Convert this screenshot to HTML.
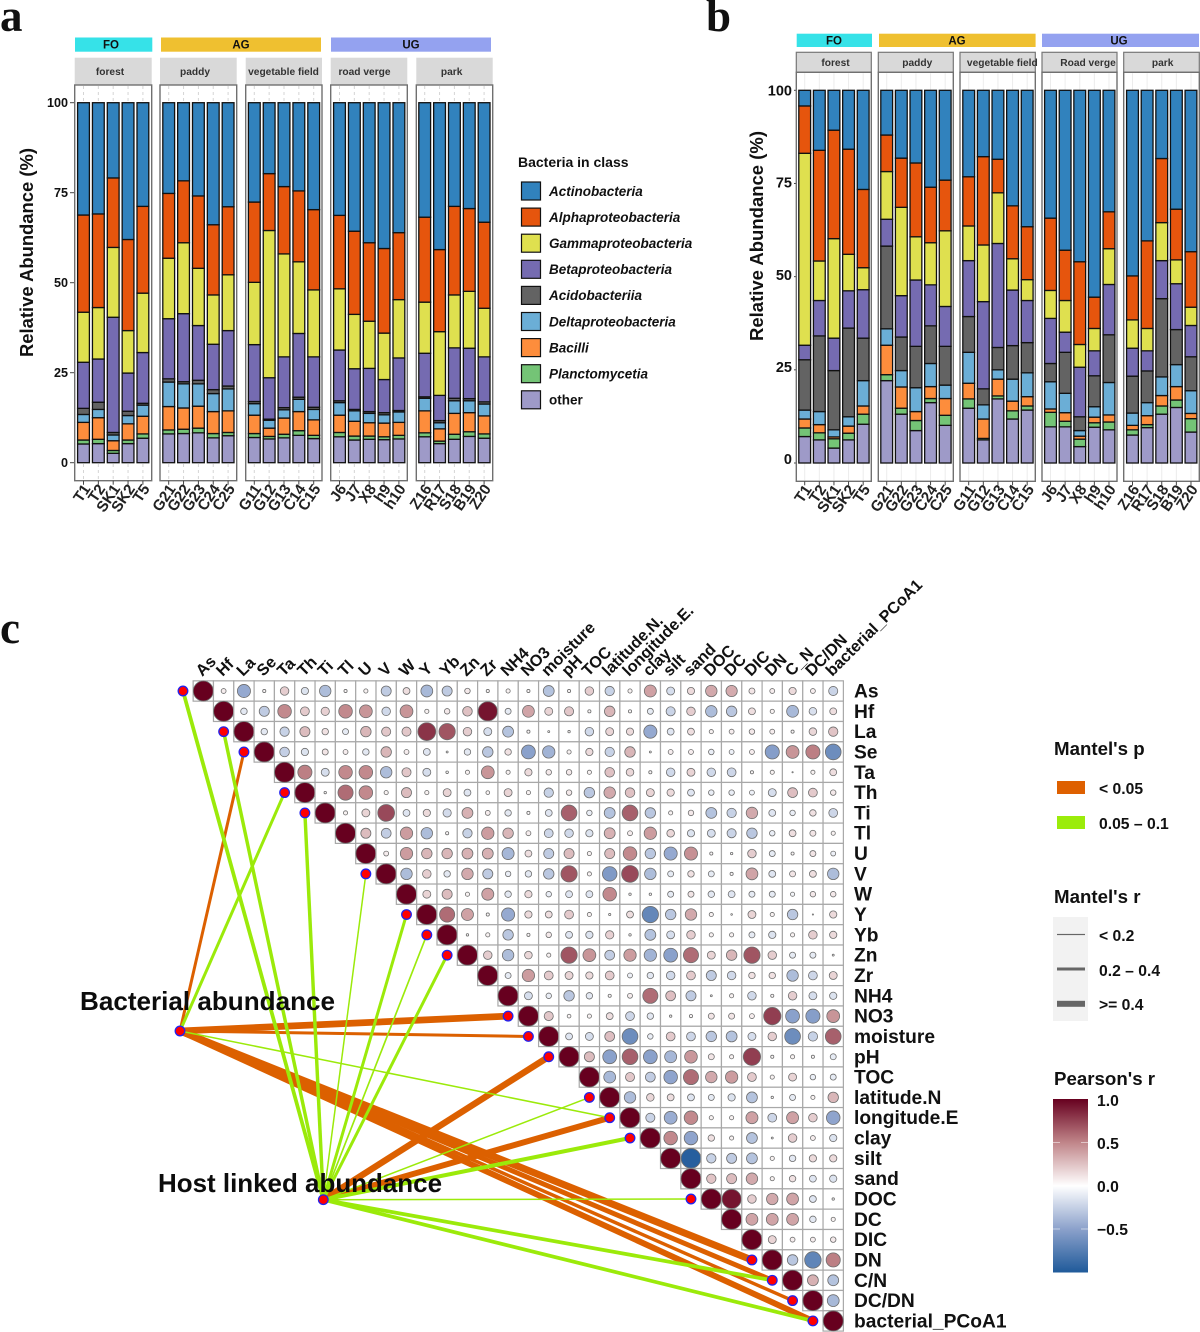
<!DOCTYPE html>
<html lang="en">
<head>
<meta charset="utf-8">
<title>Bacterial community composition and Mantel correlation network</title>
<style>
html,body{margin:0;padding:0;background:#fff}
svg{display:block}
text{font-family:"Liberation Sans",sans-serif}
.panel-letter{font-family:"Liberation Serif",serif;font-weight:700;font-size:45px;fill:#111}
.legend-title{font-weight:700;font-size:18.7px;fill:#111}
.legend-label{font-weight:700;font-size:15.7px;fill:#111}
.big-label{font-weight:700;font-size:26px;fill:#0c0c0c}
</style>
</head>
<body>
<svg id="figure" xmlns="http://www.w3.org/2000/svg" width="1200" height="1332" viewBox="0 0 1200 1332">
  <rect x="0" y="0" width="1200" height="1332" fill="#fff"/>
  <text class="panel-letter" x="0" y="31">a</text>
  <text class="panel-letter" x="706" y="31">b</text>
  <text class="panel-letter" x="0" y="643">c</text>

  <g id="chartA"></g>
  <g id="chartB"></g>

  <g>
    <text x="518" y="167" font-size="14" font-weight="700" fill="#111">Bacteria in class</text>
    <g id="classLegend"></g>
  </g>

  <g id="matrix"></g>
  <g id="links"></g>
  <g id="nodes"></g>

  <text class="big-label" x="80" y="1010" textLength="255" lengthAdjust="spacingAndGlyphs">Bacterial abundance</text>
  <text class="big-label" x="158" y="1192" textLength="284" lengthAdjust="spacingAndGlyphs">Host linked abundance</text>

  <g>
    <text class="legend-title" x="1054" y="755">Mantel's p</text>
    <rect x="1057" y="781" width="28" height="13" fill="#de6000"/>
    <text class="legend-label" x="1099" y="794">&lt; 0.05</text>
    <rect x="1057" y="816" width="28" height="13" fill="#9bec0a"/>
    <text class="legend-label" x="1099" y="829">0.05 – 0.1</text>
  </g>
  <g>
    <text class="legend-title" x="1054" y="903">Mantel's r</text>
    <rect x="1053" y="917" width="35" height="104" fill="#f2f2f2"/>
    <rect x="1057" y="933.9" width="28" height="1.2" fill="#666"/>
    <rect x="1057" y="967.5" width="28" height="3" fill="#666"/>
    <rect x="1057" y="1000.8" width="28" height="6" fill="#666"/>
    <text class="legend-label" x="1099" y="941">&lt; 0.2</text>
    <text class="legend-label" x="1099" y="976">0.2 – 0.4</text>
    <text class="legend-label" x="1099" y="1010">&gt;= 0.4</text>
  </g>
  <g>
    <text class="legend-title" x="1054" y="1085">Pearson's r</text>
    <defs>
      <linearGradient id="pearsonGradient" x1="0" y1="0" x2="0" y2="1">
        <stop offset="0" stop-color="#67001f"/>
        <stop offset="0.25" stop-color="#c08589"/>
        <stop offset="0.5" stop-color="#ffffff"/>
        <stop offset="0.75" stop-color="#8ba1cb"/>
        <stop offset="1" stop-color="#1f5a9a"/>
      </linearGradient>
    </defs>
    <rect x="1053" y="1099" width="35" height="173.5" fill="url(#pearsonGradient)"/>
    <g stroke="#fff" stroke-opacity="0.7" stroke-width="0.8">
      <path d="M1053 1142.5h7M1081 1142.5h7M1053 1186h7M1081 1186h7M1053 1229h7M1081 1229h7"/>
    </g>
    <text class="legend-label" x="1097" y="1106">1.0</text>
    <text class="legend-label" x="1097" y="1149">0.5</text>
    <text class="legend-label" x="1097" y="1192">0.0</text>
    <text class="legend-label" x="1097" y="1235">−0.5</text>
  </g>
</svg>

<script>
// ---------- stacked bar data: upper edge of each class for every sample ----------
// order in every array: other, Planctomycetia, Bacilli, Deltaproteobacteria, Acidobacteriia, Betaproteobacteria, Gammaproteobacteria, Alphaproteobacteria (Actinobacteria runs on to 100)
const classNames = ['other','Planctomycetia','Bacilli','Deltaproteobacteria','Acidobacteriia','Betaproteobacteria','Gammaproteobacteria','Alphaproteobacteria','Actinobacteria'];
const legendOrder = ['Actinobacteria','Alphaproteobacteria','Gammaproteobacteria','Betaproteobacteria','Acidobacteriia','Deltaproteobacteria','Bacilli','Planctomycetia','other'];
const yTicks = [0,25,50,75,100];

const sampleNames = ['T1','T2','SK1','SK2','T5','G21','G22','G23','C24','C25','G11','G12','G13','C14','C15','J6','J7','X8','h9','h10','Z16','R17','S18','B19','Z20'];

const aT1=[5.2,6.3,11.2,13.4,15.1,27.9,41.8,68.8];
const aT2=[5.3,6.5,12.5,14.8,16.8,28.8,43.1,69.1];
const aSK1=[2.6,3.4,6.1,7.7,8.4,40.4,59.8,79.1];
const aSK2=[5.3,6.3,10.8,13.1,14.3,24.9,36.7,62];
const aT5=[6.8,8,12.9,16,16.5,30.6,47.1,71.2];
const aG21=[8,9.1,15.6,22.4,23.3,40,56.8,74.8];
const aG22=[8.1,9.3,15.2,21.9,22.5,41.4,61.1,78.3];
const aG23=[8.3,9.6,15.7,21.9,22.9,38.1,54,74.1];
const aC24=[6.9,8.1,14.2,19.2,20.3,32.9,46.6,66.1];
const aC25=[7.5,8.4,14.4,20.5,21.3,36.7,52.2,71.1];
const aG11=[7,8.1,13.2,16.4,17,32.8,50.1,72.4];
const aG12=[6.6,7.3,9.6,11.8,12.1,23.6,64.5,80.3];
const aG13=[6.9,7.9,12.4,14.7,15.3,29.4,58,76.7];
const aC14=[7.6,8.9,14.2,17.6,18.2,35.9,55.8,75.5];
const aC15=[6.7,7.6,11.9,14.8,15.4,29.4,48,70.3];
const aJ6=[7.2,8.4,13.2,16.7,17.2,31.3,48.3,68.7];
const aJ7=[6.3,7.4,11.5,14.4,14.8,26.1,41.2,64.3];
const aX8=[6.5,7.4,11.1,13.7,14.2,26.2,39.3,61.1];
const ah9=[6.4,7.2,11,13.3,13.9,23.1,36,59.5];
const ah10=[6.6,7.6,11.2,14.1,14.5,29.1,45.3,63.9];
const aZ16=[7.2,8.3,14.4,17.9,18.3,30.4,44.6,68.2];
const aR17=[5.3,6,9.4,11.1,11.7,18.7,36.4,59.2];
const aS18=[6.5,7.9,13.7,17.2,17.9,31.9,46.6,71.2];
const aB19=[7.3,8.6,13.9,17.2,17.8,31.8,47.6,70.6];
const aZ20=[6.8,8,13,16.3,16.9,29.4,42.9,66.8];

const bT1=[7.1,9.4,11.8,14.2,27.7,31.6,83.1,95.8];
const bT2=[6.2,8.1,10.3,13.8,34.1,43.6,54.2,83.9];
const bSK1=[4,6.5,7,8.9,24.8,33.5,60.2,89.3];
const bSK2=[6.2,8,9.9,12.4,36.2,46.2,56,84.2];
const bT5=[10.4,13.1,15.3,22.1,33.5,46.5,52.4,73.4];
const bG21=[22.1,23.7,31.6,36,58.2,65.4,78.2,88];
const bG22=[13.1,14.7,20.4,24.8,33.8,44.9,68.6,81.8];
const bG23=[8.7,11.4,13.8,20.2,31.3,49.1,60.7,80.5];
const bC24=[16.2,17.3,20.5,26.7,36.8,47.8,59.1,74];
const bC25=[10.1,12.8,17.3,20.9,31.3,42,62.3,75.9];
const bG11=[14.7,17.2,21.4,29.7,39.3,54.3,63.6,76.8];
const bG12=[6.2,6.6,11.8,15.6,19.9,43.3,58.5,82.2];
const bG13=[17.2,18,22.5,25,31,58.9,72.5,81.5];
const bC14=[11.8,14,16.6,22.5,31.5,46.4,54.8,69];
const bC15=[14.2,15.3,17.8,24.2,32.3,43.6,49.2,63.4];
const bJ6=[9.7,13.6,14.5,21.8,26.7,38.8,46.3,65.7];
const bJ7=[9.7,11.2,13.5,18.7,29.7,35.1,43.6,57.1];
const bX8=[4.4,6.4,7.2,8.7,12.4,25.7,31.8,54];
const bh9=[9.6,10.8,12.3,15.1,23.4,30.1,36.1,44.5];
const bh10=[8.9,11,12.9,21.6,34.4,47.9,57.5,67.4];
const bZ16=[7.5,8.9,10.1,13.4,23.3,30.8,38.4,50.2];
const bR17=[9.5,10.3,12.7,16.2,24.7,30.1,36.1,59.6];
const bS18=[13.1,15.3,18.1,23.1,44.1,54.3,64.5,81.7];
const bB19=[14.9,16.9,20.5,26.4,35.8,48.1,54.5,68.1];
const bZ20=[8.3,11.9,13.3,19.4,28.5,36.9,41.8,56.7];

const seriesA=[aT1,aT2,aSK1,aSK2,aT5,aG21,aG22,aG23,aC24,aC25,aG11,aG12,aG13,aC14,aC15,aJ6,aJ7,aX8,ah9,ah10,aZ16,aR17,aS18,aB19,aZ20];
const seriesB=[bT1,bT2,bSK1,bSK2,bT5,bG21,bG22,bG23,bC24,bC25,bG11,bG12,bG13,bC14,bC15,bJ6,bJ7,bX8,bh9,bh10,bZ16,bR17,bS18,bB19,bZ20];

// ---------- correlation data: each row holds r with every variable to its right ----------
const varNames=['As','Hf','La','Se','Ta','Th','Ti','Tl','U','V','W','Y','Yb','Zn','Zr','NH4','NO3','moisture','pH','TOC','latitude.N','longitude.E','clay','silt','sand','DOC','DC','DIC','DN','C/N','DC/DN','bacterial_PCoA1'];
const topLabels=['As','Hf','La','Se','Ta','Th','Ti','Tl','U','V','W','Y','Yb','Zn','Zr','NH4','NO3','moisture','pH','TOC','latitude.N.','longitude.E.','clay','silt','sand','DOC','DC','DIC','DN','C_N','DC/DN','bacterial_PCoA1'];

const rAs=[.03,-.35,.01,.12,-.08,-.25,.01,.02,-.18,.07,-.27,-.18,.04,.01,.02,.01,-.22,.01,.12,-.15,.02,.28,-.1,.08,.25,.24,.05,.03,.08,.03,-.14];
const rHf=[-.06,-.18,.38,.13,.11,.38,.33,-.12,.33,.02,.04,.16,.9,-.05,.27,.1,.14,.01,.2,.01,-.05,-.14,.12,-.25,-.2,.07,.02,-.27,-.09,.07];
const rLa=[-.06,-.15,.18,.06,-.05,.2,.14,.14,.75,.6,.12,-.1,-.22,.01,.003,.005,-.12,.1,.08,-.35,-.07,.07,.02,.03,.04,.03,.01,.09,.15];
const rSe=[-.16,-.08,.05,.03,-.06,.2,.03,-.07,.003,-.06,-.2,.06,-.4,-.3,.02,.08,-.15,.2,.003,.03,.03,-.04,-.03,.03,-.42,.33,.42,-.55];
const rTa=[.42,-.1,.38,.38,-.25,.14,-.1,.006,.02,.33,.02,.08,.04,.04,.02,.16,.09,.01,-.12,.1,-.12,-.13,.01,.02,.001,.02,.07];
const rTh=[.005,.5,.38,.02,.18,.02,.1,-.07,.015,.1,.02,-.15,.04,-.2,.25,.16,.1,.08,-.07,-.04,-.04,-.03,-.1,.17,.13,.04];
const rTi=[.02,.1,.65,-.07,.08,-.11,.22,.03,-.06,.01,-.07,.55,-.04,-.22,.55,-.2,.02,.04,-.22,-.15,.25,-.07,-.04,.06,-.13];
const rTl=[.18,-.17,.3,-.25,.01,-.15,.3,.2,.03,-.13,-.12,-.08,.22,.03,.3,.09,-.08,-.1,-.14,-.2,-.04,.07,.05,.02];
const rU=[.03,.3,.2,.2,.22,.22,-.28,.07,-.18,.18,.02,.18,.38,-.2,-.35,.35,.01,.005,.12,-.05,.01,.05,-.03];
const rV=[-.25,.12,-.06,.25,-.18,-.04,-.06,-.2,.6,.02,-.45,.65,-.25,-.05,.06,-.05,.01,.27,-.07,.05,.07,-.25];
const rW=[.1,.18,.02,.28,-.06,.08,-.04,-.07,-.07,.38,.005,.005,-.05,.05,-.06,-.07,-.05,-.05,-.02,.04,.04];
const rY=[.5,.28,.01,-.35,.08,.07,.13,.02,.004,.07,-.6,-.2,.25,.02,.002,.1,.02,-.2,.001,.08];
const rYb=[.005,.02,-.2,.01,.04,-.07,-.08,.11,.005,-.22,-.1,.12,.02,.02,-.05,-.08,.02,.12,.08];
const rZn=[.12,-.25,.09,.02,.6,.33,-.17,.3,-.3,-.4,.5,.1,.2,.6,.12,-.05,-.05,.003];
const rZr=[-.05,.3,.13,.1,.08,.13,-.03,-.06,-.12,.13,-.18,-.12,.06,.06,-.25,-.13,.1];
const rNH4=[-.1,-.04,-.2,-.06,.01,.03,.5,.17,-.18,.003,.02,-.12,.01,.12,-.1,-.08];
const rNO3=[.14,.015,.02,.07,-.13,-.06,.005,.01,.05,.05,.03,.7,-.4,-.42,.33];
const rMoisture=[-.07,-.1,.17,-.55,-.04,.13,-.13,-.2,-.22,-.1,.12,-.55,-.15,.55];
const rPH=[.18,-.4,.55,-.4,-.28,.32,.05,.02,.7,.01,.02,.01,-.05];
const rTOC=[-.27,.14,-.17,-.38,.5,.25,.3,.13,.02,.1,-.04,-.05];
const rLat=[-.25,.09,.07,-.07,-.05,-.08,-.22,.005,-.05,.02,.2];
const rLon=[-.14,-.33,.38,.02,.02,.28,-.13,.28,.12,-.38];
const rClay=[.38,-.38,.06,.02,-.22,.003,.12,.03,-.08];
const rSilt=[-.95,-.15,-.18,-.22,.02,-.06,.08,.08];
const rSand=[.15,.18,.25,.02,.06,-.07,-.08];
const rDOC=[.9,.12,.25,.27,-.07,.005];
const rDC=[.27,.27,.27,-.06,.02];
const rDIC=[.1,.03,.03,.04];
const rDN=[-.2,-.62,.42];
const rCN=[.22,-.22];
const rDCDN=[-.27];
const corrRows=[rAs,rHf,rLa,rSe,rTa,rTh,rTi,rTl,rU,rV,rW,rY,rYb,rZn,rZr,rNH4,rNO3,rMoisture,rPH,rTOC,rLat,rLon,rClay,rSilt,rSand,rDOC,rDC,rDIC,rDN,rCN,rDCDN];

// ---------- Mantel test data ----------
const bacterialTargets=['Se','Th','NO3','moisture','longitude.E','DN','C/N','DC/DN','bacterial_PCoA1'];
const bacterialP=[.03,.07,.01,.03,.08,.01,.01,.02,.01];
const bacterialR=[.2,.2,.45,.2,.1,.47,.33,.23,.4];
const hostTargets=['As','La','Ti','V','Y','Yb','Zn','pH','latitude.N','longitude.E','clay','DOC','C/N','bacterial_PCoA1'];
const hostP=[.07,.07,.07,.09,.07,.09,.07,.01,.09,.01,.06,.09,.06,.06];
const hostR=[.25,.23,.23,.1,.2,.11,.2,.43,.1,.4,.27,.1,.25,.25];

// ---------- drawing ----------
const NS='http://www.w3.org/2000/svg';
const classColors={Actinobacteria:'#3182bd',Alphaproteobacteria:'#e6550d',Gammaproteobacteria:'#dfe04f',Betaproteobacteria:'#756bb1',Acidobacteriia:'#636363',Deltaproteobacteria:'#6baed6',Bacilli:'#fd8d3c',Planctomycetia:'#74c476',other:'#9e9ac8'};

function make(tag,attrs,parent,txt){
  const e=document.createElementNS(NS,tag);
  for(const k in attrs)e.setAttribute(k,attrs[k]);
  if(txt!==undefined)e.textContent=txt;
  parent.appendChild(e);
  return e;
}
function slug(s){return String(s).toLowerCase().replace(/[^a-z0-9]+/g,'-').replace(/^-|-$/g,'');}

const layoutA={
  root:'chartA',values:seriesA,
  y0:462.7,pxPerUnit:3.6,top:85,bottom:480.7,stripTop:57.7,stripBorder:false,
  colorTop:37.5,colorH:14.2,barW:11.8,barStep:14.85,tickFont:12.6,tickRight:68,labelDrift:0,
  titleX:33,titleY:252.5,titleLen:209,gridDash:'3 3',gridColor:'#d5d5d5',
  groups:[{n:'FO',x0:75,x1:152.3,c:'#36e2e8',tx:111},{n:'AG',x0:161,x1:321,c:'#efc030',tx:241},{n:'UG',x0:331,x1:491,c:'#94a2f0',tx:411}],
  facets:[
    {n:'forest',x0:74.7,x1:151.7,first:83.5,tx:110},
    {n:'paddy',x0:160,x1:236.7,first:168.7,tx:195},
    {n:'vegetable field',x0:245.7,x1:322,first:254.3,tx:283.5},
    {n:'road verge',x0:330.7,x1:407.3,first:339.5,tx:364.5},
    {n:'park',x0:416.3,x1:492.7,first:424.7,tx:451.7}
  ]
};
const layoutB={
  root:'chartB',values:seriesB,
  y0:463,pxPerUnit:3.727,top:72.3,bottom:481.3,stripTop:52.3,stripBorder:true,
  colorTop:33.7,colorH:13.3,barW:11.8,barStep:14.62,tickFont:14.5,tickRight:792,labelDrift:4,
  titleX:763,titleY:236,titleLen:210,gridDash:'',gridColor:'#ececec',
  groups:[{n:'FO',x0:796.7,x1:872,c:'#36e2e8',tx:834},{n:'AG',x0:879,x1:1035.6,c:'#efc030',tx:957},{n:'UG',x0:1042,x1:1199,c:'#94a2f0',tx:1119}],
  facets:[
    {n:'forest',x0:796.3,x1:871.3,first:804.7,tx:835.5},
    {n:'paddy',x0:878.3,x1:953.3,first:886.7,tx:917.3},
    {n:'vegetable field',x0:960,x1:1035.3,first:968.7,tx:1002.3},
    {n:'Road verge',x0:1042,x1:1117,first:1050.5,tx:1088},
    {n:'park',x0:1123.7,x1:1199.3,first:1132.5,tx:1162.7}
  ]
};

function drawStack(L){
  const root=document.getElementById(L.root);
  const yScale=v=>L.y0-v*L.pxPerUnit;
  const barX=(f,i)=>f.first+i*L.barStep;

  const title=make('text',{x:L.titleX,y:L.titleY,'font-size':18,'font-weight':700,fill:'#111','text-anchor':'middle',textLength:L.titleLen,lengthAdjust:'spacingAndGlyphs',transform:'rotate(-90 '+L.titleX+' '+L.titleY+')'},root,'Relative Abundance (%)');
  
  

  L.groups.forEach(g=>{
    const r=make('rect',{x:g.x0,y:L.colorTop,width:g.x1-g.x0,height:L.colorH,fill:g.c},root);
    
    
    const t=make('text',{x:g.tx,y:L.colorTop+L.colorH/2+4,'font-size':11.5,'font-weight':700,fill:'#111','text-anchor':'middle'},root,g.n);
    
    
  });

  yTicks.forEach(v=>{
    const mark=make('line',{x1:L.tickRight+2,x2:L.tickRight+6,y1:yScale(v),y2:yScale(v),stroke:'#444','stroke-width':1},root);
    
    
    const labelY=yScale(v)+L.tickFont*0.36-L.labelDrift*(1-v/100);
    const t=make('text',{x:L.tickRight,y:labelY,'font-size':L.tickFont,'font-weight':700,fill:'#111','text-anchor':'end'},root,String(v));
    
    
  });

  let sampleIndex=0;
  L.facets.forEach(f=>{
    const strip=make('rect',{x:f.x0,y:L.stripTop,width:f.x1-f.x0,height:L.top-L.stripTop,fill:'#d9d9d9',stroke:L.stripBorder?'#777':'none','stroke-width':1.2},root);
    
    
    const st=make('text',{x:f.tx,y:(L.stripTop+L.top)/2+3.6,'font-size':10.2,'font-weight':700,fill:'#333','text-anchor':'middle'},root,f.n);
    
    

    const panel=make('rect',{x:f.x0,y:L.top,width:f.x1-f.x0,height:L.bottom-L.top,fill:'#fff',stroke:'#707070','stroke-width':1.4},root);
    
    

    for(let i=0;i<5;i++,sampleIndex++){
      const cx=barX(f,i);
      const grid=make('line',{x1:cx,x2:cx,y1:L.top+1,y2:L.bottom-1,stroke:L.gridColor,'stroke-width':1},root);
      if(L.gridDash)grid.setAttribute('stroke-dasharray',L.gridDash);
      
      
      const tick=make('line',{x1:cx,x2:cx,y1:L.bottom,y2:L.bottom+4,stroke:'#444','stroke-width':1},root);
      
      

      const values=L.values[sampleIndex];
      classNames.forEach((cls,k)=>{
        const low=k===0?0:values[k-1];
        const high=k<values.length?values[k]:yTicks[yTicks.length-1];
        const seg=make('rect',{x:cx-L.barW/2,y:yScale(high),width:L.barW,height:Math.max(0,yScale(low)-yScale(high)),fill:classColors[cls],stroke:'#111','stroke-width':1.3},root);
        
        
      });

      const lx=cx+7.5, ly=L.bottom+8;
      const lab=make('text',{x:lx,y:ly,'font-size':15.2,'font-weight':700,fill:'#222','text-anchor':'end',transform:'rotate(-56 '+lx+' '+ly+')'},root,sampleNames[sampleIndex]);
      
      
    }
  });
}
drawStack(layoutA);
drawStack(layoutB);

// class legend
const legendRoot=document.getElementById('classLegend');
legendOrder.forEach((cls,i)=>{
  const y=191+i*26.1;
  const sw=make('rect',{x:521.5,y:y-9,width:19,height:18,fill:classColors[cls],stroke:'#111','stroke-width':1.2},legendRoot);
  
  
  const t=make('text',{x:549,y:y+4.8,'font-size':13.5,'font-weight':700,'font-style':cls==='other'?'normal':'italic',fill:'#111'},legendRoot,cls);
  
  
});

// correlation matrix
const mx=document.getElementById('matrix');
const STEP=20.32, X0=203.3, Y0=691, MAXR=10;
const colX=i=>X0+i*STEP;
const rowY=i=>Y0+i*STEP;
const mix=(a,b,t)=>a.map((c,i)=>Math.round(c+(b[i]-c)*t));
const WHITE=[255,255,255],RMID=[192,133,137],RTOP=[103,0,31],BMID=[139,161,203],BTOP=[31,90,154];
function fillFor(v){
  const t=Math.min(1,Math.pow(Math.abs(v),0.75));
  const mid=v>=0?RMID:BMID, top=v>=0?RTOP:BTOP;
  const c=t<.5?mix(WHITE,mid,t/.5):mix(mid,top,(t-.5)/.5);
  return 'rgb('+c.join(',')+')';
}
function drawCell(row,col,v){
  const cell=make('rect',{x:colX(col)-STEP/2,y:rowY(row)-STEP/2,width:STEP,height:STEP,fill:'#fff',stroke:'#a8a8a8','stroke-width':1.2},mx);
  
  
  const dot=make('circle',{cx:colX(col),cy:rowY(row),r:MAXR*Math.pow(Math.abs(v),0.4),fill:fillFor(v),stroke:'#6e6e6e','stroke-width':0.8},mx);
  
  
}
varNames.forEach((name,row)=>{
  drawCell(row,row,1);
  (corrRows[row]||[]).forEach((v,k)=>drawCell(row,row+1+k,v));
  const lab=make('text',{x:854,y:rowY(row)+6.5,'font-size':19.2,'font-weight':700,fill:'#111'},mx,name);
  
  
  const tx=colX(row)-1, ty=677;
  const top=make('text',{x:tx,y:ty,'font-size':16.2,'font-weight':700,fill:'#111',transform:'rotate(-45 '+tx+' '+ty+')'},mx,topLabels[row]);
  
  
});

// Mantel links and nodes
const linksRoot=document.getElementById('links');
const nodesRoot=document.getElementById('nodes');
const bacterialPos={x:180,y:1031};
const hostPos={x:323.3,y:1199.7};
const targetX=name=>colX(varNames.indexOf(name)-1);
const targetY=name=>rowY(varNames.indexOf(name));
const linkWidth=r=>r*15;
const linkColor=p=>p<.05?'#dc6000':'#9bea0a';
const allLinks=[];
bacterialTargets.forEach((t,i)=>allLinks.push({src:bacterialPos,srcName:'bacterial',t:t,p:bacterialP[i],r:bacterialR[i]}));
hostTargets.forEach((t,i)=>allLinks.push({src:hostPos,srcName:'host',t:t,p:hostP[i],r:hostR[i]}));
allLinks.filter(l=>l.p<.05).concat(allLinks.filter(l=>l.p>=.05)).forEach(l=>{
  const ln=make('line',{x1:l.src.x,y1:l.src.y,x2:targetX(l.t),y2:targetY(l.t),stroke:linkColor(l.p),'stroke-width':linkWidth(l.r)},linksRoot);
  
  
});
const seen={};
allLinks.forEach(l=>{
  if(seen[l.t])return;
  seen[l.t]=1;
  const n=make('circle',{cx:targetX(l.t),cy:targetY(l.t),r:4.8,fill:'#ff0000',stroke:'#2222ee','stroke-width':1.3},nodesRoot);
  
  
});
[[bacterialPos,'bacterial-abundance'],[hostPos,'host-linked-abundance']].forEach(p=>{
  const n=make('circle',{cx:p[0].x,cy:p[0].y,r:4.8,fill:'#ff0000',stroke:'#2222ee','stroke-width':1.3},nodesRoot);
  
  
});
</script>
</body>
</html>
